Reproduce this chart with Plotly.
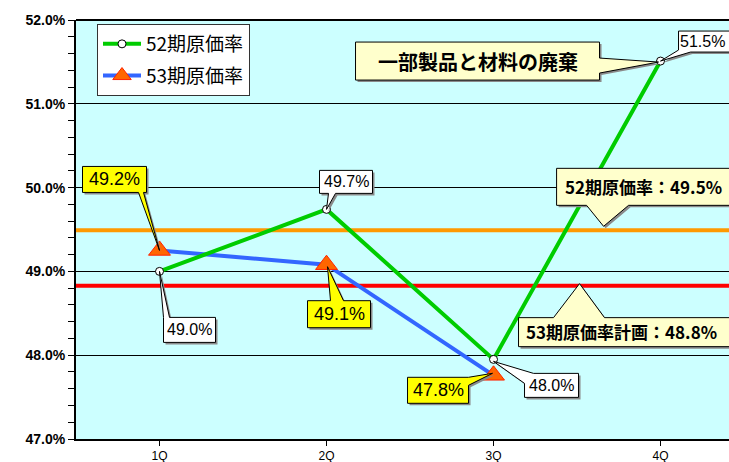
import plotly.graph_objects as go

quarters = ["1Q", "2Q", "3Q", "4Q"]
rate52 = [49.0, 49.74, 47.95, 51.51]
rate53 = [49.25, 49.08, 47.76]
label52 = ["49.0%", "49.7%", "48.0%", "51.5%"]
label53 = ["49.2%", "49.1%", "47.8%"]
avg52 = 49.49
plan53 = 48.83
avg52_text = "52期原価率：49.5%"
plan53_text = "53期原価率計画：48.8%"
note_text = "一部製品と材料の廃棄"
y_ticks = [47, 48, 49, 50, 51, 52]
y_ticklabels = ["47.0%", "48.0%", "49.0%", "50.0%", "51.0%", "52.0%"]

W, H = 729, 462
ML, MT, MB = 76, 20, 23
XMIN, XMAX = -0.5, 3.41
PW, PH = W - ML, H - MT - MB


def px2paper(px, py):
    return (px - ML) / PW, 1 - (py - MT) / PH


fig = go.Figure()

# reference lines (drawn first, below the series)
fig.add_trace(go.Scatter(x=[XMIN, XMAX + 0.2], y=[avg52, avg52], mode="lines",
                         line=dict(color="#FF9900", width=4), showlegend=False, hoverinfo="skip"))
fig.add_trace(go.Scatter(x=[XMIN, XMAX + 0.2], y=[plan53, plan53], mode="lines",
                         line=dict(color="#FF0000", width=4), showlegend=False, hoverinfo="skip"))

fig.add_trace(go.Scatter(
    x=list(range(len(rate53))), y=rate53, name="53期原価率", mode="lines+markers",
    line=dict(color="#3366FF", width=4),
    marker=dict(symbol="triangle-up", size=19, color="#FF6600", line=dict(color="#FF2200", width=1)),
    legendgroup="b", legendrank=2,
))
fig.add_trace(go.Scatter(
    x=list(range(len(rate52))), y=rate52, name="52期原価率", mode="lines+markers",
    line=dict(color="#00CC00", width=4),
    marker=dict(symbol="circle", size=8, color="white", line=dict(color="black", width=1)),
    legendgroup="a", legendrank=1,
))

numfont = dict(family="Liberation Sans, Arial, sans-serif", color="black")
jpfont = dict(family="Noto Sans CJK JP, sans-serif", color="black")


def callout(ax_x, ax_y, text, box, edge, base, bg, font, tip=(0, 0), center=None):
    """box=(l,t,r,b) in px relative to anchor, y downward."""
    l, t, r, b = box
    tx, ty = tip
    if edge == "top":
        pts = [(l, t), (base[0], t), (tx, ty), (base[1], t), (r, t), (r, b), (l, b)]
    elif edge == "bottom":
        pts = [(l, t), (r, t), (r, b), (base[1], b), (tx, ty), (base[0], b), (l, b)]
    elif edge == "right":
        pts = [(l, t), (r, t), (r, base[0]), (tx, ty), (r, base[1]), (r, b), (l, b)]
    elif edge == "topleft":  # base = (y on left edge, x on top edge)
        pts = [(l, base[0]), (tx, ty), (base[1], t), (r, t), (r, b), (l, b)]
    else:  # bottomleft: base = (y on left edge, x on bottom edge)
        pts = [(l, t), (r, t), (r, b), (base[1], b), (tx, ty), (l, base[0])]

    def path(dx, dy):
        return "M " + " L ".join(f"{x + dx},{-(y + dy)}" for x, y in pts) + " Z"

    common = dict(type="path", xref="x", yref="y", xsizemode="pixel", ysizemode="pixel",
                  xanchor=ax_x, yanchor=ax_y, layer="above")
    fig.add_shape(path=path(2, 2), fillcolor="#8A8A8A", line=dict(width=0), **common)
    fig.add_shape(path=path(0, 0), fillcolor=bg, line=dict(color="black", width=1), **common)
    if center is None:
        center = ((l + r) / 2, (t + b) / 2)
    fig.add_annotation(x=ax_x, y=ax_y, text=text, showarrow=False,
                       xshift=center[0], yshift=-center[1], font=font)


# 52期 labels (white)
callout(0, rate52[0], label52[0], (4, 46, 56, 71), "top", (4, 10), "white", dict(numfont, size=16))
callout(1, rate52[1], label52[1], (-7, -39, 46, -16), "bottom", (2, 9), "white", dict(numfont, size=16))
callout(2, rate52[2], label52[2], (31, 14, 85, 38), "topleft", (24, 40), "white", dict(numfont, size=16),
        tip=(0, 2))
callout(3, rate52[3], label52[3], (18, -30, 75, -9), "bottomleft", (-11, 30), "white", dict(numfont, size=16),
        center=(42, -20))
# 53期 labels (yellow)
callout(0, rate53[0], label53[0], (-77, -84, -13, -58), "bottom", (-21, -16), "#FFFF00", dict(numfont, size=18))
callout(1, rate53[1], label53[1], (-19, 36, 44, 63), "top", (4, 17), "#FFFF00", dict(numfont, size=18),
        tip=(1, 2))
callout(2, rate53[2], label53[2], (-86, 2, -25, 28), "right", (2, 10), "#FFFF00", dict(numfont, size=18),
        tip=(-1, -2))
# text callouts
callout(3, rate52[3], f"<b>{note_text}</b>", (-305, -19, -61, 19), "right", (-3, 12), "#FFFFCC",
        dict(jpfont, size=20), tip=(-2, 1))
callout(2.659, avg52, f"<b>{avg52_text}</b>", (-47, -62, 130, -25), "bottom", (-17, 25), "#FFFFCC",
        dict(jpfont, size=17), tip=(0, -4), center=(40, -44))
callout(2.515, plan53, f"<b>{plan53_text}</b>", (-61, 32, 160, 61), "top", (-26, 25), "#FFFFCC",
        dict(jpfont, size=17), tip=(0, -2), center=(42, 46))

# legend shadow
sx0, sy0 = px2paper(100, 27)
sx1, sy1 = px2paper(249, 96)
fig.add_shape(type="rect", xref="paper", yref="paper", x0=sx0, x1=sx1, y0=sy1, y1=sy0,
              fillcolor="#8A8A8A", line=dict(width=0), layer="above")

# top border of plot area
fig.add_shape(type="line", xref="paper", yref="paper", x0=0, x1=1, y0=1, y1=1,
              line=dict(color="black", width=2))

lx, ly = px2paper(97, 24)
fig.update_layout(
    width=W, height=H,
    margin=dict(l=ML, r=0, t=MT, b=MB, pad=0),
    paper_bgcolor="white", plot_bgcolor="#CCFFFF",
    showlegend=True,
    legend=dict(x=lx, y=ly, xanchor="left", yanchor="top",
                bgcolor="white", bordercolor="#333333", borderwidth=1,
                font=dict(family="Noto Sans CJK JP, Liberation Sans, sans-serif", size=19, color="black"),
                tracegroupgap=4, itemwidth=38),
    xaxis=dict(range=[XMIN, XMAX], tickmode="array", tickvals=list(range(len(quarters))), ticktext=quarters,
               showgrid=False, zeroline=False, showline=True, linecolor="black", linewidth=2,
               ticks="outside", ticklen=5, tickcolor="black", automargin=False,
               tickfont=dict(family="Liberation Sans, Arial, sans-serif", size=12, color="black")),
    yaxis=dict(range=[47, 52], tickmode="array", tickvals=y_ticks,
               ticktext=[f"<b>{t}</b>" for t in y_ticklabels],
               showgrid=True, gridcolor="black", gridwidth=1, zeroline=False,
               showline=True, linecolor="black", linewidth=2,
               ticks="outside", ticklen=6, tickcolor="black", automargin=False,
               minor=dict(dtick=0.2, ticks="outside", ticklen=6, tickcolor="black", showgrid=False),
               tickfont=dict(family="Liberation Sans, Arial, sans-serif", size=14, color="black")),
)

fig.write_html("out.html", config={"displayModeBar": False},
               post_script="document.body.style.margin='0';document.body.style.overflow='hidden';")
